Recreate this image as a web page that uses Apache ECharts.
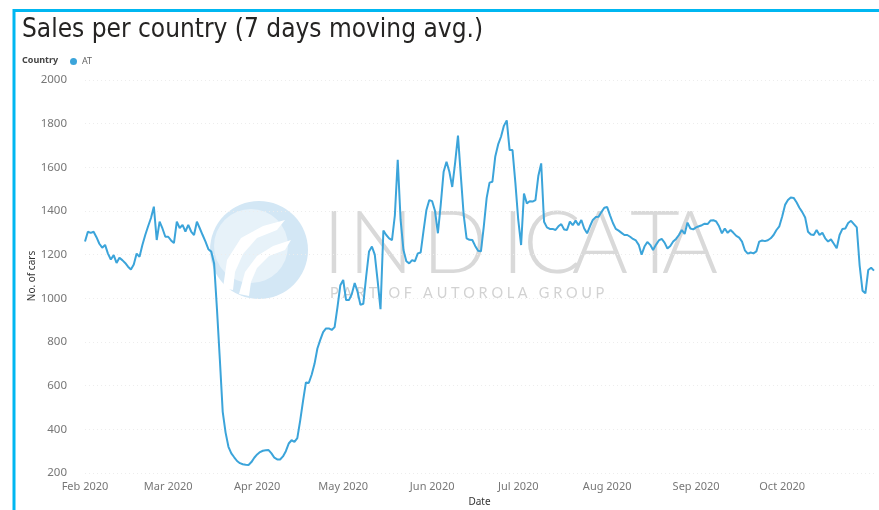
<!DOCTYPE html>
<html>
<head>
<meta charset="utf-8">
<script src="https://cdn.jsdelivr.net/npm/echarts@6/dist/echarts.min.js"></script>
<style>html,body{margin:0;padding:0;background:#fff;}#chart{width:879px;height:510px;}</style>
</head>
<body>
<div id="chart"></div>
<script>
// ---- data ----
const startDate = '2020-02-01';
const yTicks = [200, 400, 600, 800, 1000, 1200, 1400, 1600, 1800, 2000];
const seriesName = 'AT';
const yAxisTitle = 'No. of cars';
const salesAT = [
  1260,1305,1300,1305,1280,1250,1232,1245,1205,1178,
  1198,1162,1186,1175,1162,1145,1132,1155,1205,1190,
  1244,1290,1330,1368,1420,1267,1351,1320,1282,1282,
  1265,1253,1351,1322,1336,1306,1336,1306,1290,1351,
  1321,1290,1260,1225,1214,1160,950,720,480,385,
  320,290,272,255,245,240,238,237,250,270,
  285,296,302,304,305,290,270,262,262,276,
  300,335,350,343,360,440,530,615,612,650,
  700,770,810,845,862,862,855,868,960,1060,
  1084,992,992,1020,1070,1030,970,975,1100,1215,
  1237,1200,1080,950,1310,1290,1275,1267,1380,1634,
  1359,1221,1170,1160,1175,1170,1206,1210,1310,1405,
  1450,1445,1400,1298,1430,1580,1626,1580,1510,1620,
  1745,1560,1380,1275,1268,1267,1240,1218,1215,1330,
  1460,1530,1534,1650,1705,1740,1790,1815,1679,1679,
  1530,1360,1244,1480,1435,1445,1443,1450,1560,1618,
  1351,1325,1318,1318,1313,1330,1340,1315,1313,1351,
  1335,1356,1335,1359,1320,1298,1330,1359,1372,1374,
  1395,1415,1418,1380,1345,1318,1310,1300,1290,1290,
  1282,1272,1265,1245,1200,1237,1258,1245,1221,1245,
  1265,1272,1255,1228,1240,1260,1272,1290,1313,1295,
  1347,1320,1316,1325,1330,1335,1342,1340,1356,1358,
  1352,1330,1298,1320,1300,1313,1300,1286,1278,1260,
  1220,1205,1210,1206,1215,1260,1265,1262,1266,1275,
  1290,1313,1330,1375,1428,1450,1462,1460,1440,1415,
  1395,1370,1305,1292,1290,1313,1290,1300,1275,1260,
  1270,1250,1229,1290,1318,1320,1345,1355,1340,1325,
  1150,1035,1023,1130,1140,1127
];
const monthNames = ['Jan','Feb','Mar','Apr','May','Jun','Jul','Aug','Sep','Oct','Nov','Dec'];
const watermarkLetters = ['I','N','D','I','C','A','T','A'];
const watermarkSub = 'P A R T   O F   A U T O R O L A   G R O U P';

// daily category list
const dates = [];
(function(){
  const d0 = new Date(startDate + 'T00:00:00Z');
  for (let i = 0; i < salesAT.length; i++) {
    const d = new Date(d0.getTime() + i * 86400000);
    dates.push(d.toISOString().slice(0, 10));
  }
})();

const chart = echarts.init(document.getElementById('chart'), null, {renderer: 'canvas'});
const lineColor = '#3ba4da';

const letterX = [334, 381, 455, 513, 552, 600, 655, 690];
const watermark = watermarkLetters.map(function (ch, i) {
  return {type: 'text', silent: true, z: 0, x: letterX[i], y: 245,
    style: {text: ch, fontFamily: 'Lato', fontWeight: 300, fontSize: 86, fill: '#d9d9d9',
            align: 'center', verticalAlign: 'middle'}};
});

const option = {
  animation: false,
  backgroundColor: '#ffffff',
  title: {
    text: 'Sales per country (7 days moving avg.)',
    left: 17, top: 12,
    textStyle: {fontFamily: '"DejaVu Sans Condensed", "DejaVu Sans"', fontSize: 26, fontWeight: 'normal', color: '#252423'}
  },
  legend: {
    left: 70, top: 57, padding: 0,
    icon: 'circle', itemWidth: 7, itemHeight: 7, itemGap: 4,
    textStyle: {fontFamily: 'Noto Sans', fontSize: 9, color: '#666'},
    data: [seriesName]
  },
  grid: {left: 85, right: 5, top: 80, bottom: 37, containLabel: false, outerBoundsMode: 'none'},
  xAxis: {
    type: 'category',
    data: dates,
    boundaryGap: false,
    name: 'Date',
    nameLocation: 'middle',
    nameGap: 24,
    nameTextStyle: {fontFamily: 'Noto Sans', fontSize: 10, color: '#333'},
    axisLine: {show: false},
    axisTick: {show: false},
    splitLine: {show: false},
    axisLabel: {
      interval: function (idx, val) { return val.slice(8, 10) === '01' && idx < dates.length - 10; },
      formatter: function (val) { return monthNames[parseInt(val.slice(5, 7), 10) - 1] + ' ' + val.slice(0, 4); },
      fontFamily: 'Noto Sans', fontSize: 11, color: '#777', margin: 8
    }
  },
  yAxis: {
    type: 'value',
    min: yTicks[0], max: yTicks[yTicks.length - 1], interval: 200,
    axisLine: {show: false},
    axisTick: {show: false},
    axisLabel: {fontFamily: 'Noto Sans', fontSize: 11.5, color: '#777', margin: 18,
                formatter: function (v) { return String(v); }},
    splitLine: {show: true, lineStyle: {color: '#ededed', type: [1, 3], width: 1}}
  },
  graphic: [
    {type: 'rect', silent: true, z: 100, shape: {x: 14, y: 10.5, width: 1000, height: 1000},
     style: {fill: 'none', stroke: '#00b7f1', lineWidth: 3}},
    {type: 'text', x: 22, y: 56, z: 10,
     style: {text: 'Country', fontFamily: 'Noto Sans', fontSize: 9, fontWeight: 'bold', fill: '#444'}},
    {type: 'text', x: 32, y: 276, z: 10, rotation: Math.PI / 2,
     style: {text: yAxisTitle, fontFamily: 'Noto Sans', fontSize: 10, fill: '#333', align: 'center', verticalAlign: 'middle'}},
    // watermark logo
    {type: 'circle', silent: true, z: 0, shape: {cx: 259, cy: 250, r: 49},
     style: {fill: '#d3e7f5'}},
    {type: 'circle', silent: true, z: 0, shape: {cx: 251, cy: 246, r: 37},
     style: {fill: '#ffffff', opacity: 0.45}},
    {type: 'polygon', silent: true, z: 0,
     shape: {points: [[223,288],[227,260],[241,238],[263,226],[285,220],[277,230],[257,238],[243,254],[235,272],[233,290]]},
     style: {fill: '#ffffff'}},
    {type: 'polygon', silent: true, z: 0,
     shape: {points: [[239,294],[245,272],[257,256],[273,246],[291,240],[285,250],[269,256],[257,268],[251,282],[249,296]]},
     style: {fill: '#ffffff'}},
    {type: 'text', silent: true, z: 0, x: 330, y: 293,
     style: {text: watermarkSub, fontFamily: 'Lato', fontSize: 14.5, fill: '#d2d2d2', verticalAlign: 'middle'}}
  ].concat(watermark),
  series: [{
    name: seriesName,
    type: 'line',
    data: salesAT,
    showSymbol: false,
    symbol: 'circle',
    z: 5,
    itemStyle: {color: lineColor},
    lineStyle: {color: lineColor, width: 2}
  }]
};
chart.setOption(option);
</script>
</body>
</html>
